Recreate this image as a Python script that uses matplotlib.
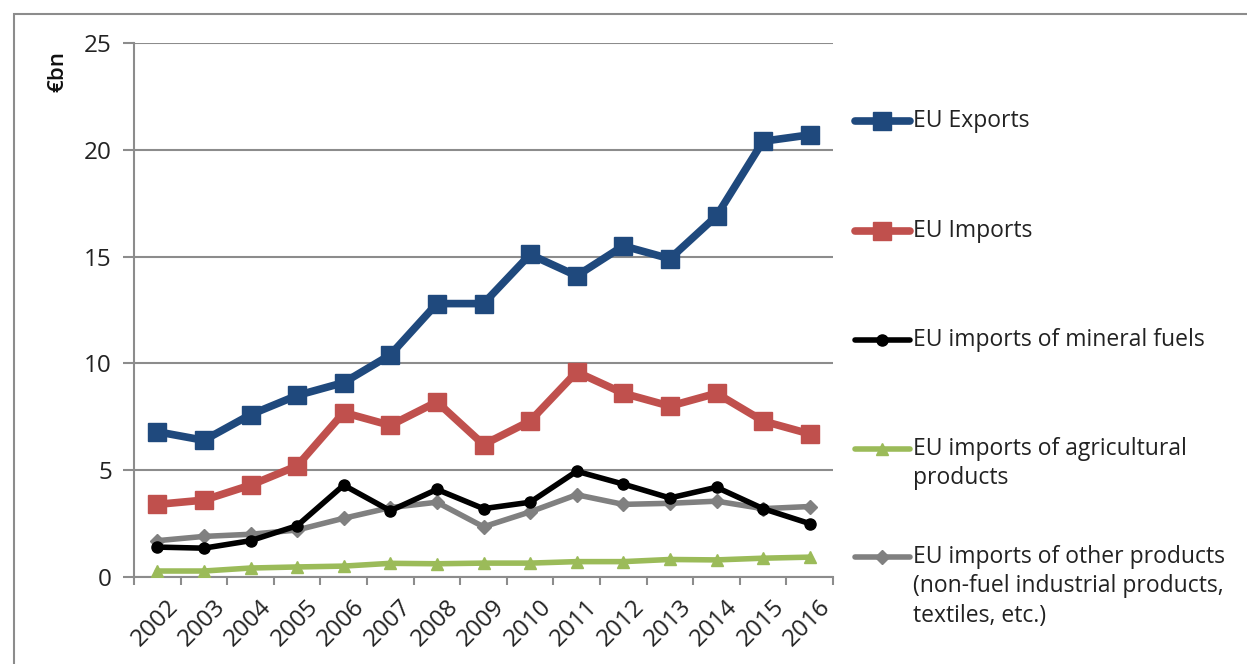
import matplotlib
matplotlib.use("Agg")
import matplotlib.pyplot as plt
import matplotlib.transforms as mtransforms
from matplotlib.lines import Line2D
from matplotlib.patches import Rectangle
import numpy as np

years = ["2002", "2003", "2004", "2005", "2006", "2007", "2008", "2009",
         "2010", "2011", "2012", "2013", "2014", "2015", "2016"]
eu_exports = [6.8, 6.4, 7.6, 8.5, 9.1, 10.4, 12.8, 12.8, 15.1, 14.1, 15.5, 14.9, 16.9, 20.4, 20.7]
eu_imports = [3.4, 3.6, 4.3, 5.2, 7.7, 7.1, 8.2, 6.2, 7.3, 9.6, 8.6, 8.0, 8.6, 7.3, 6.7]
imp_fuels = [1.4, 1.35, 1.7, 2.4, 4.3, 3.1, 4.1, 3.2, 3.5, 4.95, 4.35, 3.7, 4.2, 3.2, 2.5]
imp_agri = [0.28, 0.28, 0.42, 0.47, 0.51, 0.64, 0.62, 0.65, 0.65, 0.72, 0.72, 0.82, 0.8, 0.88, 0.93]
imp_other = [1.7, 1.9, 2.0, 2.2, 2.75, 3.25, 3.5, 2.35, 3.05, 3.85, 3.4, 3.45, 3.55, 3.2, 3.3]
labels = ["EU Exports", "EU Imports", "EU imports of mineral fuels",
          "EU imports of agricultural\nproducts",
          "EU imports of other products\n(non-fuel industrial products,\ntextiles, etc.)"]
yticks = [0, 5, 10, 15, 20, 25]

plt.rcParams['font.family'] = ['Open Sans', 'DejaVu Sans']

fig = plt.figure(figsize=(12.47, 6.64), dpi=100)
W, H = 1247, 664
ax = fig.add_axes([134 / W, 1 - 577 / H, (833 - 134) / W, (577 - 43) / H])

x = np.arange(len(years))
styles = [
    dict(color="#1F497D", lw=5.5, marker="s", ms=13, mec="#1F497D"),
    dict(color="#C0504D", lw=5.5, marker="s", ms=13, mec="#C0504D"),
    dict(color="#000000", lw=4.0, marker="o", ms=8, mec="#000000"),
    dict(color="#9BBB59", lw=4.0, marker="^", ms=9, mec="#9BBB59"),
    dict(color="#808080", lw=4.0, marker="D", ms=7, mec="#808080"),
]
series = [eu_exports, eu_imports, imp_fuels, imp_agri, imp_other]
zorders = [5, 5, 4, 3, 3.5]
for s, st, z in zip(series, styles, zorders):
    ax.plot(x, s, solid_joinstyle="round", solid_capstyle="round", zorder=z, **st)

ax.set_xlim(-0.5, len(years) - 0.5)
ax.set_ylim(0, 25)
ax.set_yticks(yticks)
ax.set_yticklabels([str(v) for v in yticks], fontsize=17.5, color="#222222")
ax.yaxis.grid(True, color="#8c8c8c", lw=1.5)
ax.set_axisbelow(True)
for sp in ["top", "right"]:
    ax.spines[sp].set_visible(False)
for sp in ["left", "bottom"]:
    ax.spines[sp].set_color("#8c8c8c")
    ax.spines[sp].set_linewidth(1.5)
ax.tick_params(axis="y", length=8, width=1.5, color="#8c8c8c", pad=8)

ax.set_xticks(np.arange(-0.5, len(years), 1.0))
ax.set_xticklabels([])
ax.tick_params(axis="x", length=6, width=1.5, color="#8c8c8c")
ax.set_xticks(x, minor=True)
ax.set_xticklabels(years, minor=True, rotation=45, ha="right", va="top",
                   rotation_mode="anchor", fontsize=17.5, color="#222222")
ax.tick_params(axis="x", which="minor", length=0, pad=13)
off = mtransforms.ScaledTranslation(9 / 100, 0, fig.dpi_scale_trans)
for lab in ax.xaxis.get_minorticklabels():
    lab.set_transform(lab.get_transform() + off)

fig.text(58 / W, 1 - 72 / H, "€bn", rotation=90, ha="center", va="center",
         fontsize=16, fontweight="semibold", color="#111111")

# legend (manual)
leg_y = [121, 231, 340, 449, 557]
for st, lab, ly in zip(styles, labels, leg_y):
    yf = 1 - ly / H
    ln = Line2D([855 / W, 910 / W], [yf, yf], transform=fig.transFigure,
                color=st["color"], lw=st["lw"], solid_capstyle="round")
    fig.add_artist(ln)
    mk = Line2D([882 / W], [yf], transform=fig.transFigure, color=st["color"],
                marker=st["marker"], ms=st["ms"], mec=st["mec"], lw=0)
    fig.add_artist(mk)
    fig.text(913 / W, yf + 12 / H, lab, ha="left", va="top", fontsize=16.5,
             color="#222222", linespacing=1.3)

fig.add_artist(Rectangle((14 / W, -0.1), 2.0, 1.1 - 14 / H, transform=fig.transFigure,
                         fill=False, edgecolor="#8c8c8c", lw=1.5))

fig.savefig("out.png", dpi=100)
